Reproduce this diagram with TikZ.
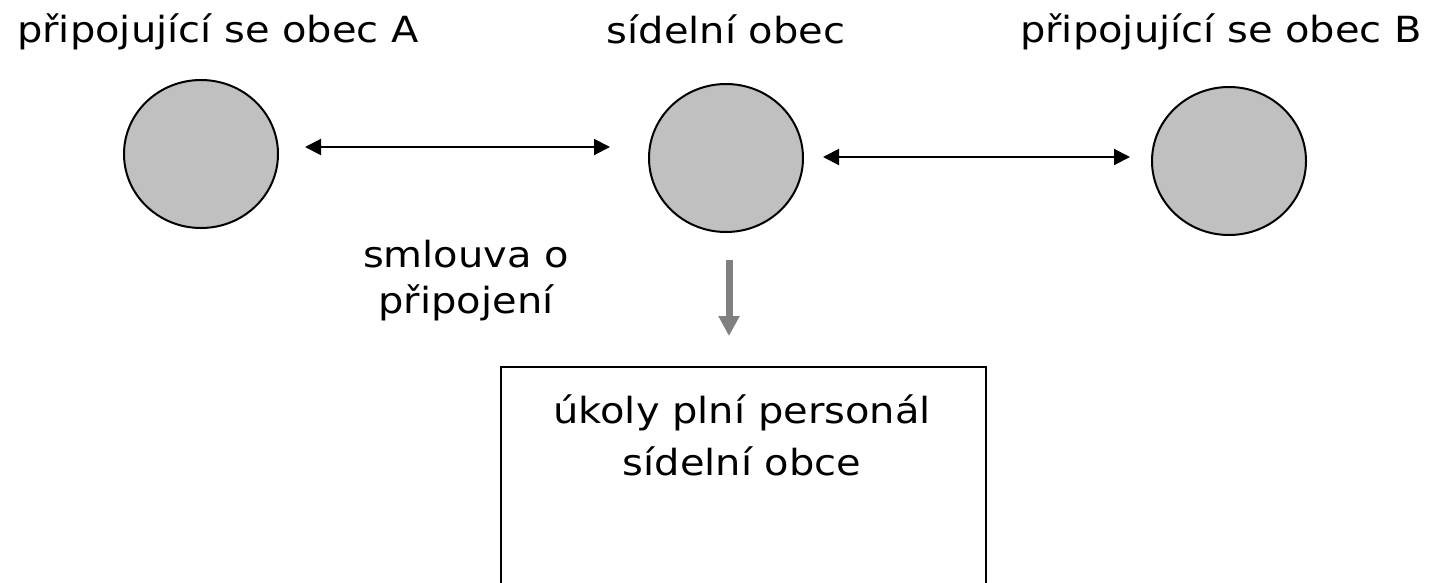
\documentclass[tikz,border=0pt]{standalone}
\usepackage{fontspec}
\setmainfont{DejaVu Sans}[FakeStretch=1.11]
\usetikzlibrary{arrows.meta,shapes.geometric}
\begin{document}
\begin{tikzpicture}[x=1pt,y=-1pt,
  town/.style={ellipse,draw=black,line width=2pt,fill=circgray,minimum width=154pt,minimum height=148pt,inner sep=0pt},
  lbl/.style={font=\fontsize{36}{46}\selectfont,inner sep=0pt,anchor=base,align=center},
  link/.style={{Triangle[length=16pt,width=16pt]}-{Triangle[length=16pt,width=16pt]},line width=2pt,black},
  flow/.style={-{Triangle[length=20pt,width=20pt]},line width=7pt,arrowgray}]
\definecolor{circgray}{HTML}{C0C0C0}
\definecolor{arrowgray}{HTML}{808080}
\useasboundingbox (0,0) rectangle (1434,582);
\clip (0,0) rectangle (1434,582);
% circles
\node[town] (A) at (201,154) {};
\node[town] (M) at (726,158) {};
\node[town] (B) at (1229,161) {};
% titles
\node[lbl] (tA) at (218,42) {připojující se obec A};
\node[lbl] (tM) at (726,43) {sídelní obec};
\node[lbl] (tB) at (1221,42) {připojující se obec B};
% contract label (base = last line)
\node[lbl] (smlouva) at (466,313) {smlouva o\\připojení};
% box
\node[draw=black,line width=1.5pt,minimum width=485pt,minimum height=260pt,inner sep=0pt,anchor=north west] (box) at (500,366) {};
\node[lbl,font=\fontsize{36}{52}\selectfont] (boxtext) at (742,475) {úkoly plní personál\\sídelní obce};
% connectors
\coordinate (a1) at (305,147);
\coordinate (a2) at (610,147);
\coordinate (b1) at (823,157);
\coordinate (b2) at (1130,157);
\coordinate (g1) at (729,260);
\coordinate (g2) at (729,336);
\draw[link] (a1) -- (a2);
\draw[link] (b1) -- (b2);
\draw[flow] (g1) -- (g2);
\end{tikzpicture}
\end{document}
